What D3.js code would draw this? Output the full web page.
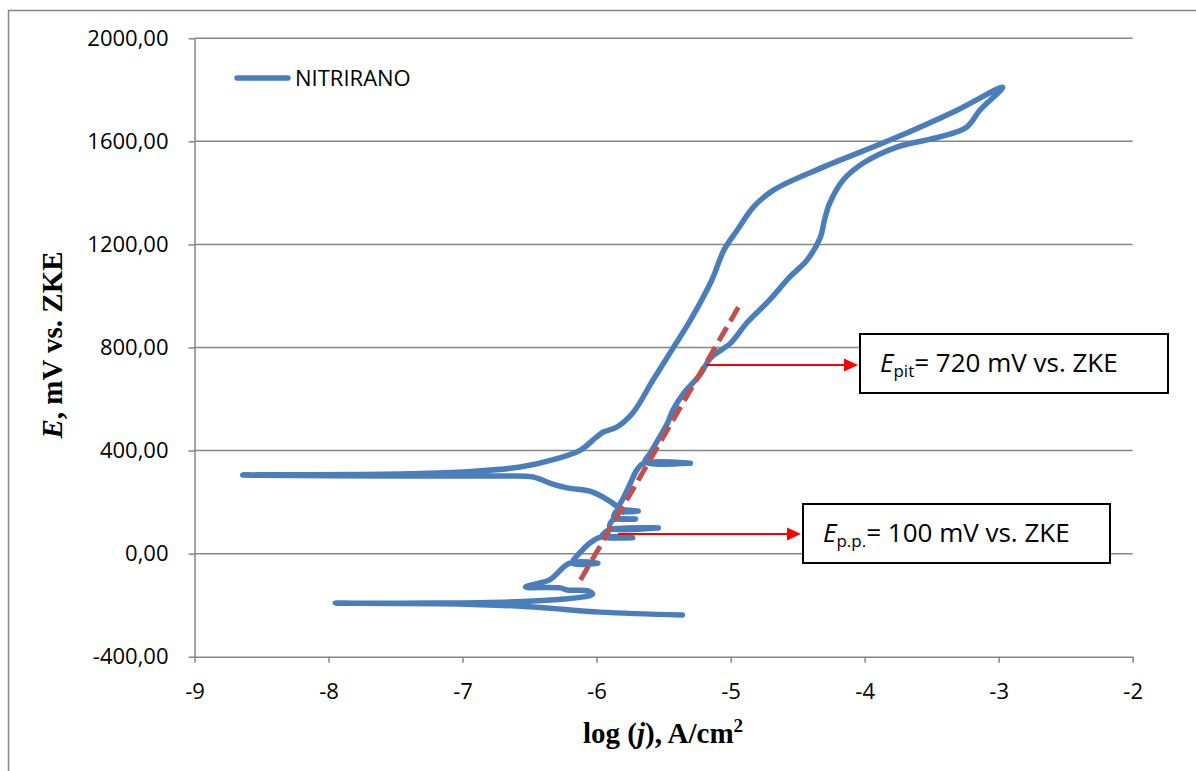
<!DOCTYPE html>
<html>
<head>
<meta charset="utf-8">
<script src="https://cdn.jsdelivr.net/npm/d3@7"></script>
<style>
  body { margin: 0; background: #fff; }
  svg { display: block; }
</style>
</head>
<body>
<div id="chart"></div>
<script>
// cyclic polarisation curve (scan order)
const logJ = [
  -5.36, -5.97, -6.47, -6.97, -7.95, -7.22, -6.47, -6.10, -6.03, -6.06,
  -6.22, -6.27, -6.53, -6.46, -6.35, -6.20, -5.99, -6.18, -6.12, -6.05,
  -5.97, -5.73, -5.96, -5.91, -5.54, -5.90, -5.88, -5.71, -5.87, -5.85,
  -5.69, -5.84, -5.80, -5.75, -5.70, -5.65, -5.30, -5.64, -5.60, -5.53,
  -5.47, -5.43, -5.35, -5.23, -5.15, -5.00, -4.88, -4.71, -4.56, -4.43,
  -4.33, -4.30, -4.26, -4.16, -4.01, -3.76, -3.44, -3.24, -3.14, -2.97,
  -3.31, -3.81, -4.31, -4.68, -4.83, -4.95, -5.05, -5.14, -5.30, -5.44,
  -5.58, -5.73, -5.85, -5.95, -6.00, -6.12, -6.33, -6.57, -6.99, -7.47,
  -8.64, -7.47, -6.72, -6.47, -6.35, -6.22, -6.03, -5.88, -5.80
];
const potential = [
  -238, -227, -207, -196, -192, -192, -184, -168, -157, -145,
  -141, -133, -130, -118, -102, -37, -37, -37, 6, 41,
  64, 62, 66, 92, 100, 100, 130, 134, 138, 165,
  165, 168, 216, 271, 324, 351, 351, 355, 390, 452,
  507, 557, 623, 693, 759, 817, 895, 984, 1073, 1139,
  1228, 1294, 1361, 1450, 1516, 1578, 1617, 1655, 1721, 1810,
  1721, 1605, 1500, 1411, 1345, 1256, 1178, 1062, 906, 789,
  673, 546, 491, 472, 453, 402, 364, 336, 317, 309,
  305, 301, 301, 297, 274, 255, 239, 196, 161
];

// dashed Tafel-like fit line
const fitLogJ = [-6.12, -4.92];
const fitE = [-102, 976];

// annotation arrows: potential level and where the arrow starts
const annotE = [732, 76];
const annotStart = [-5.18, -5.84];
const annotSub = ["pit", "p.p."];
const annotText = ["= 720 mV vs. ZKE", "= 100 mV vs. ZKE"];

const xTicks = [-9, -8, -7, -6, -5, -4, -3, -2];
const yTicks = [-400, 0, 400, 800, 1200, 1600, 2000];
const seriesName = "NITRIRANO";

(function () {
  const width = 1196, height = 771;
  const blue = "#4a7ebb", red = "#ff0000", grey = "#868686";
  const numFont = "'Open Sans', sans-serif";
  const titleFont = "'Liberation Serif', 'Times New Roman', serif";

  const svg = d3.select("#chart")
    .append("svg")
    .attr("width", width)
    .attr("height", height);

  // outer chart border (only top and left visible)
  svg.append("path")
    .attr("d", `M8.5,${height} V10.5 H${width}`)
    .attr("fill", "none")
    .attr("stroke", grey)
    .attr("stroke-width", 1.5);

  const x = d3.scaleLinear().domain([-9, -2]).range([194.5, 1132.7]);
  const y = d3.scaleLinear().domain([-400, 2000]).range([656.7, 38.3]);

  // gridlines
  svg.append("g")
    .selectAll("line")
    .data(yTicks.filter(d => d > -400))
    .join("line")
      .attr("x1", x(-9)).attr("x2", x(-2))
      .attr("y1", d => y(d)).attr("y2", d => y(d))
      .attr("stroke", grey)
      .attr("stroke-width", 1.5);

  // comma decimals, plain hyphen for negatives
  const fmt = d => d3.format(".2f")(d).replace(".", ",").replace("\u2212", "-");

  const yAxis = svg.append("g")
    .attr("transform", `translate(${x(-9)},0)`)
    .call(d3.axisLeft(y).tickValues(yTicks).tickFormat(fmt)
      .tickSize(6).tickSizeOuter(0).tickPadding(20));

  const xAxis = svg.append("g")
    .attr("transform", `translate(0,${y(-400)})`)
    .call(d3.axisBottom(x).tickValues(xTicks).tickFormat(d => String(d))
      .tickSize(6).tickSizeOuter(0).tickPadding(21));

  [yAxis, xAxis].forEach(g => {
    g.select(".domain").attr("stroke", grey).attr("stroke-width", 1.5);
    g.selectAll(".tick line").attr("stroke", grey).attr("stroke-width", 1.5);
    g.selectAll(".tick text")
      .attr("fill", "#000")
      .style("font-family", numFont)
      .style("font-size", "22px");
  });

  // polarisation curve
  const pts = logJ.map((d, i) => [d, potential[i]]);
  const line = d3.line()
    .x(d => x(d[0]))
    .y(d => y(d[1]))
    .curve(d3.curveCatmullRom.alpha(0.5));

  svg.append("path")
    .datum(pts)
    .attr("d", line)
    .attr("fill", "none")
    .attr("stroke", blue)
    .attr("stroke-width", 5.5)
    .attr("stroke-linejoin", "round")
    .attr("stroke-linecap", "round");

  // fit line
  svg.append("path")
    .datum(fitLogJ.map((d, i) => [d, fitE[i]]))
    .attr("d", d3.line().x(d => x(d[0])).y(d => y(d[1])))
    .attr("fill", "none")
    .attr("stroke", "#c0504d")
    .attr("stroke-width", 5)
    .attr("stroke-dasharray", "16,7");

  // legend
  svg.append("line")
    .attr("x1", 237).attr("x2", 288)
    .attr("y1", 78).attr("y2", 78)
    .attr("stroke", blue)
    .attr("stroke-width", 5.5)
    .attr("stroke-linecap", "round");
  svg.append("text")
    .attr("x", 295).attr("y", 86)
    .style("font-family", numFont)
    .style("font-size", "22px")
    .text(seriesName);

  // annotation boxes with arrows
  const boxes = [
    { x: 860, y: 334, w: 308, h: 59 },
    { x: 803, y: 504, w: 307, h: 59 }
  ];
  boxes.forEach((b, i) => {
    const ay = y(annotE[i]);
    const ax0 = x(annotStart[i]);
    svg.append("line")
      .attr("x1", ax0).attr("x2", b.x - 14)
      .attr("y1", ay).attr("y2", ay)
      .attr("stroke", red)
      .attr("stroke-width", 2);
    svg.append("path")
      .attr("d", `M${b.x - 2},${ay} L${b.x - 16},${ay - 6.5} L${b.x - 16},${ay + 6.5} Z`)
      .attr("fill", red);
    svg.append("rect")
      .attr("x", b.x).attr("y", b.y)
      .attr("width", b.w).attr("height", b.h)
      .attr("fill", "#fff")
      .attr("stroke", "#000")
      .attr("stroke-width", 2);
    const t = svg.append("text")
      .attr("x", b.x + 20).attr("y", b.y + 38)
      .style("font-family", numFont)
      .style("font-size", "26px");
    t.append("tspan").style("font-style", "italic").text("E");
    t.append("tspan").attr("dy", 5).style("font-size", "17px").text(annotSub[i]);
    t.append("tspan").attr("dy", -5).text(annotText[i]);
  });

  // axis titles
  const xt = svg.append("text")
    .attr("x", 663).attr("y", 743)
    .attr("text-anchor", "middle")
    .style("font-family", titleFont)
    .style("font-weight", "bold")
    .style("font-size", "29px");
  xt.append("tspan").text("log (");
  xt.append("tspan").style("font-style", "italic").text("j");
  xt.append("tspan").text("), A/cm");
  xt.append("tspan").attr("dy", -11).style("font-size", "19px").text("2");

  const yt = svg.append("text")
    .attr("transform", "translate(62,345) rotate(-90)")
    .attr("text-anchor", "middle")
    .style("font-family", titleFont)
    .style("font-weight", "bold")
    .style("font-size", "29px");
  yt.append("tspan").style("font-style", "italic").text("E");
  yt.append("tspan").text(", mV vs. ZKE");
})();
</script>
</body>
</html>
